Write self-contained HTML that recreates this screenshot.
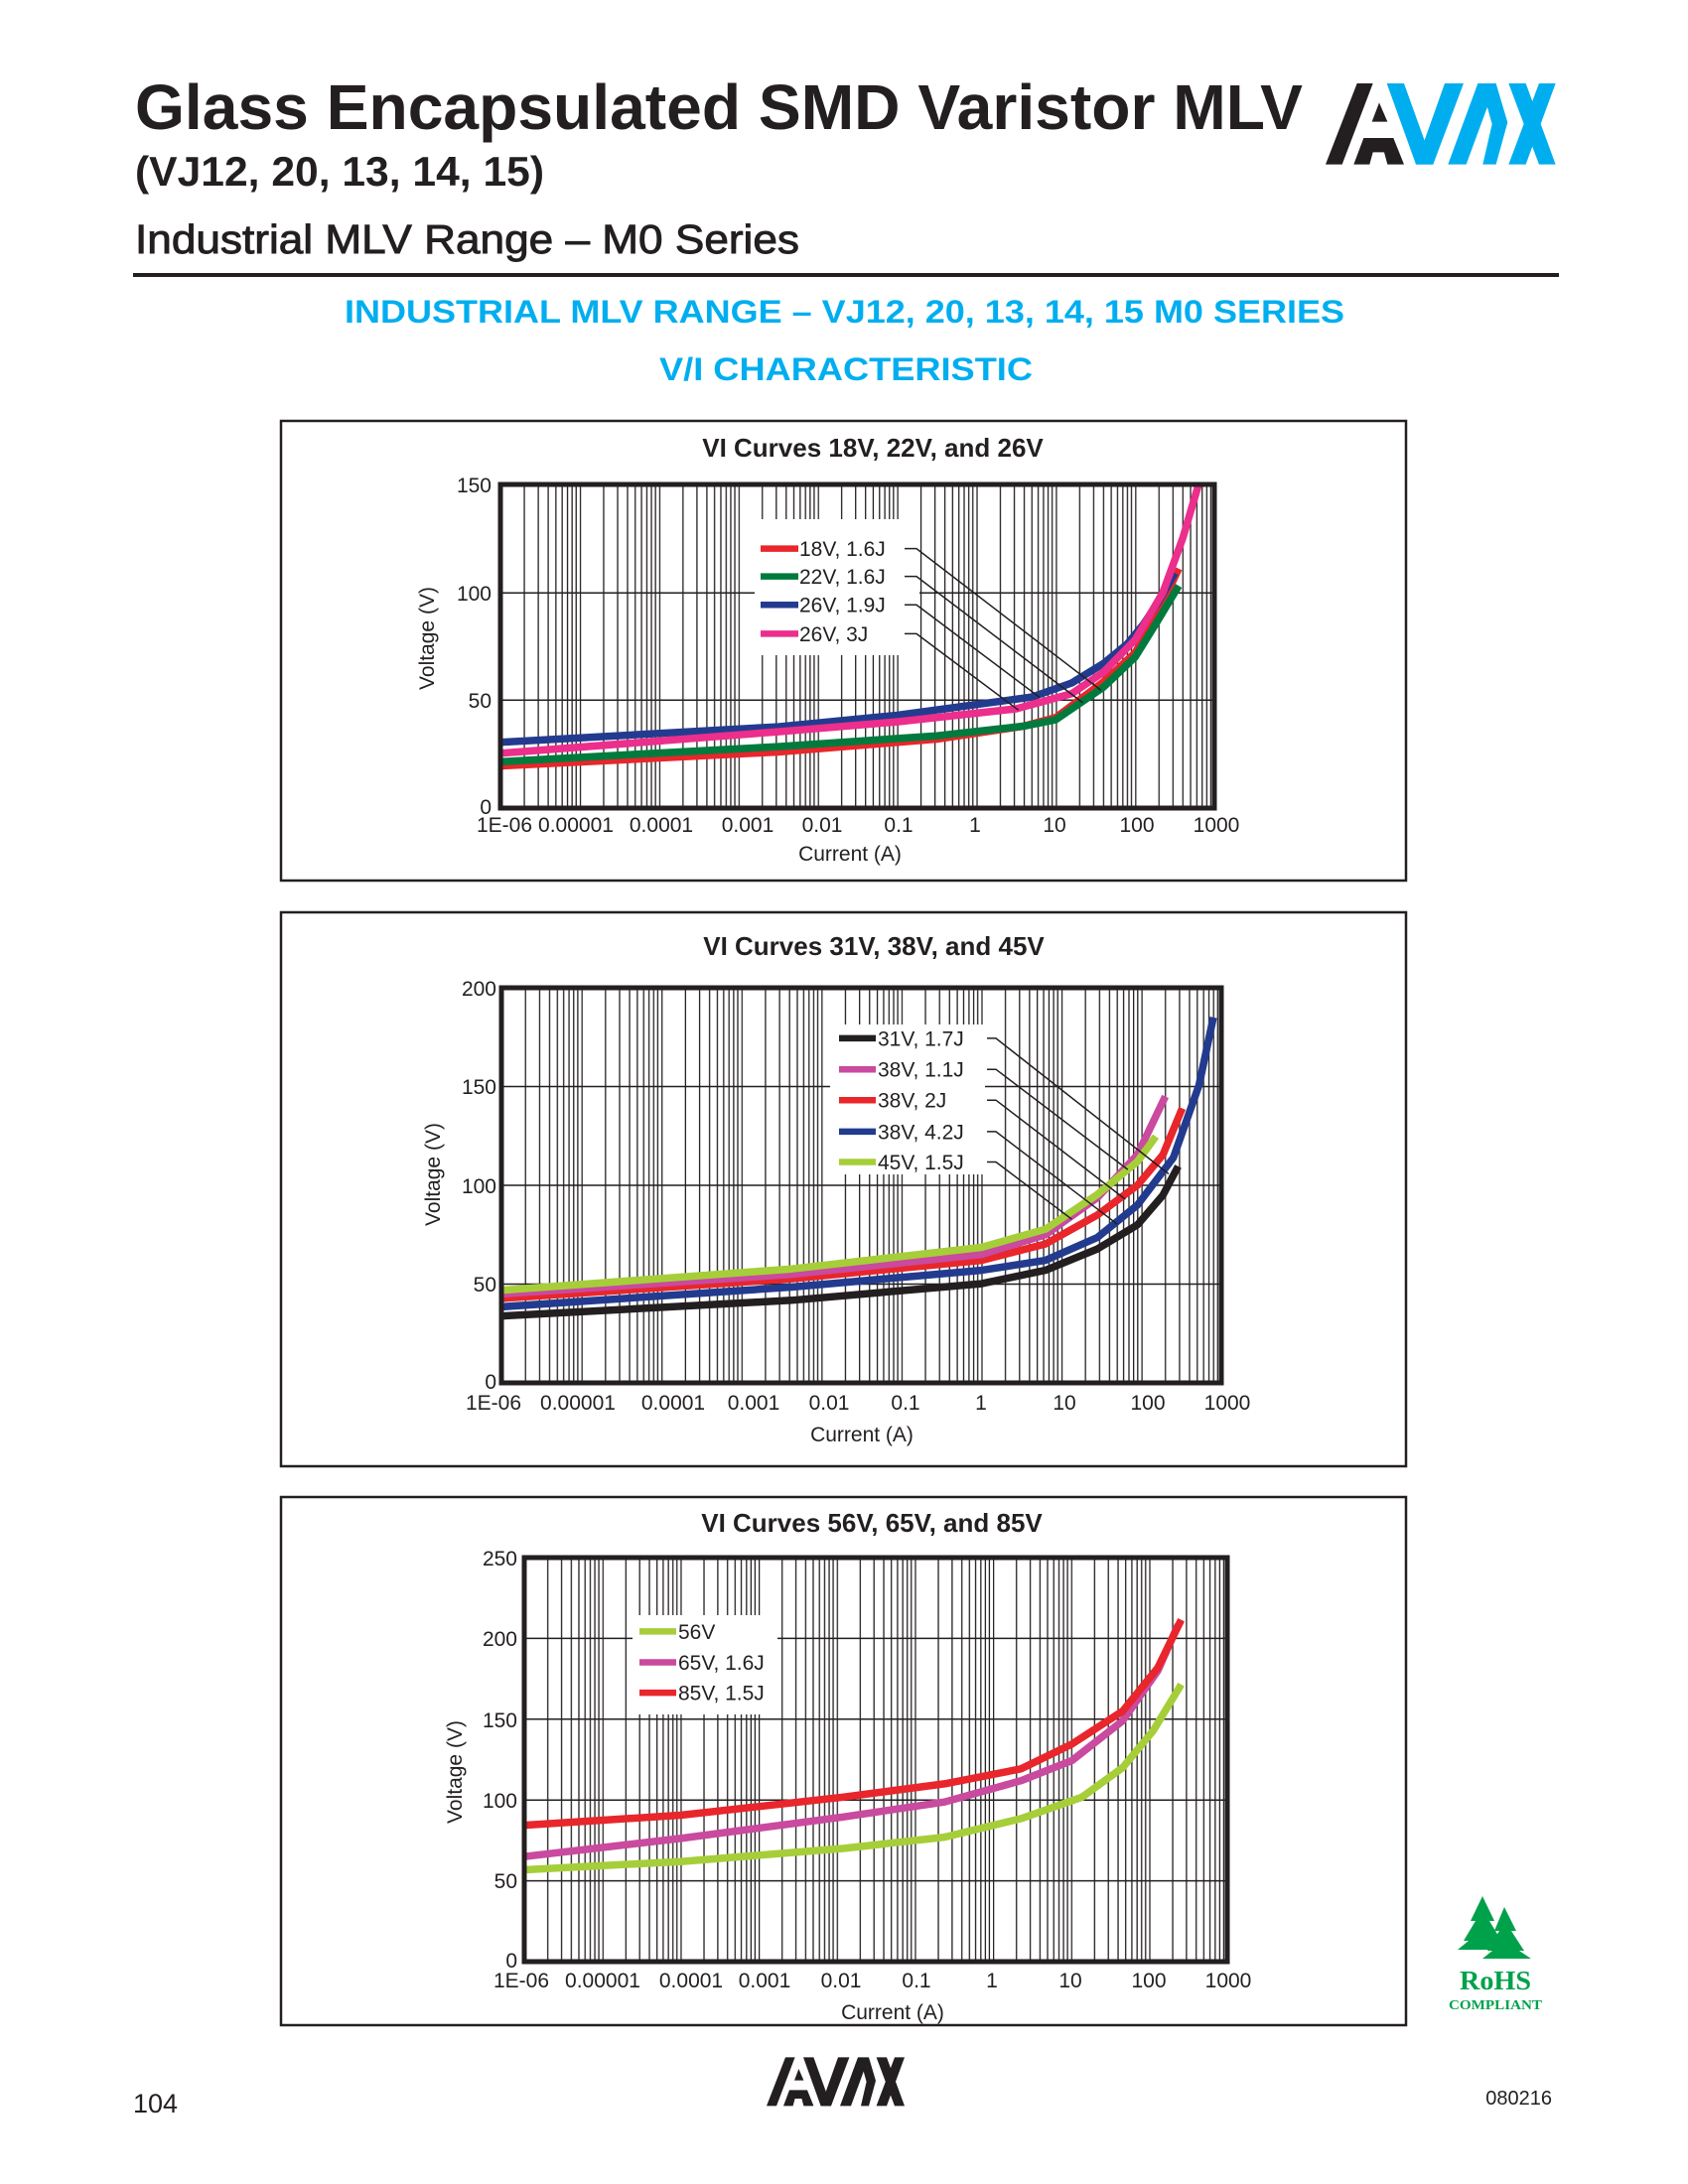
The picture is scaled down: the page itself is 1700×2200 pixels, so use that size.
<!DOCTYPE html>
<html><head><meta charset="utf-8"><style>html,body{margin:0;padding:0;background:#fff}svg{display:block}</style></head>
<body>
<svg width="1700" height="2200" viewBox="0 0 1700 2200" xmlns="http://www.w3.org/2000/svg" font-family="Liberation Sans, Arial, sans-serif">
<defs>
<pattern id="g1" patternUnits="userSpaceOnUse" x="504" y="0" width="79.9" height="2200">
<g stroke="#231f20" stroke-width="1.3"><line x1="0.6" y1="0" x2="0.6" y2="2200"/><line x1="24.05" y1="0" x2="24.05" y2="2200"/><line x1="38.12" y1="0" x2="38.12" y2="2200"/><line x1="48.1" y1="0" x2="48.1" y2="2200"/><line x1="55.85" y1="0" x2="55.85" y2="2200"/><line x1="62.17" y1="0" x2="62.17" y2="2200"/><line x1="67.52" y1="0" x2="67.52" y2="2200"/><line x1="72.16" y1="0" x2="72.16" y2="2200"/><line x1="76.24" y1="0" x2="76.24" y2="2200"/></g></pattern>
<pattern id="g2" patternUnits="userSpaceOnUse" x="505" y="0" width="80.56" height="2200">
<g stroke="#231f20" stroke-width="1.3"><line x1="0.6" y1="0" x2="0.6" y2="2200"/><line x1="24.25" y1="0" x2="24.25" y2="2200"/><line x1="38.44" y1="0" x2="38.44" y2="2200"/><line x1="48.5" y1="0" x2="48.5" y2="2200"/><line x1="56.31" y1="0" x2="56.31" y2="2200"/><line x1="62.69" y1="0" x2="62.69" y2="2200"/><line x1="68.08" y1="0" x2="68.08" y2="2200"/><line x1="72.75" y1="0" x2="72.75" y2="2200"/><line x1="76.87" y1="0" x2="76.87" y2="2200"/></g></pattern>
<pattern id="g3" patternUnits="userSpaceOnUse" x="528" y="0" width="78.67" height="2200">
<g stroke="#231f20" stroke-width="1.3"><line x1="0.6" y1="0" x2="0.6" y2="2200"/><line x1="23.68" y1="0" x2="23.68" y2="2200"/><line x1="37.54" y1="0" x2="37.54" y2="2200"/><line x1="47.36" y1="0" x2="47.36" y2="2200"/><line x1="54.99" y1="0" x2="54.99" y2="2200"/><line x1="61.22" y1="0" x2="61.22" y2="2200"/><line x1="66.48" y1="0" x2="66.48" y2="2200"/><line x1="71.05" y1="0" x2="71.05" y2="2200"/><line x1="75.07" y1="0" x2="75.07" y2="2200"/></g></pattern>
<g id="logo">
<polygon points="140,42 188,42 95,287 45,287"/>
<polygon points="185,158 207,100 232,158"/>
<polygon points="160,207 250,207 282,287 232,287 222,250 188,250 178,287 130,287"/>
</g>
<g id="logo2">
<polygon points="230,42 282,42 370,287 318,287"/>
<polygon points="405,42 462,42 370,287 318,287"/>
<polygon points="505,42 560,42 470,287 415,287"/>
<polygon points="560,42 595,160 560,287 520,287 548,165 530,100"/>
<polygon points="598,42 650,42 740,287 690,287"/>
<polygon points="690,42 740,42 650,287 598,287"/>
</g>
</defs>

<!-- Header -->
<text x="136" y="130" font-size="64" font-weight="bold" fill="#231f20" textLength="1176" lengthAdjust="spacingAndGlyphs">Glass Encapsulated SMD Varistor MLV</text>
<text x="136" y="187" font-size="42" font-weight="bold" fill="#231f20" textLength="412" lengthAdjust="spacingAndGlyphs">(VJ12, 20, 13, 14, 15)</text>
<text x="136" y="255" font-size="41" fill="#231f20" stroke="#231f20" stroke-width="0.9" textLength="669" lengthAdjust="spacingAndGlyphs">Industrial MLV Range – M0 Series</text>
<rect x="134" y="275" width="1436" height="4" fill="#231f20"/>
<g transform="translate(1320,70) scale(0.3333)"><use href="#logo" fill="#231f20"/><use href="#logo2" fill="#00aeef"/></g>
<text x="347" y="325" font-size="32" font-weight="bold" fill="#00aeef" textLength="1007" lengthAdjust="spacingAndGlyphs">INDUSTRIAL MLV RANGE – VJ12, 20, 13, 14, 15 M0 SERIES</text>
<text x="664" y="383" font-size="32" font-weight="bold" fill="#00aeef" textLength="376" lengthAdjust="spacingAndGlyphs">V/I CHARACTERISTIC</text>

<!-- Chart 1 -->
<rect x="283" y="424" width="1133" height="463" fill="none" stroke="#231f20" stroke-width="2.5"/>
<text x="879" y="460" font-size="26" font-weight="bold" text-anchor="middle" fill="#231f20">VI Curves 18V, 22V, and 26V</text>
<rect x="504" y="488" width="719" height="326" fill="url(#g1)"/>
<g stroke="#231f20" stroke-width="1.5"><line x1="504" y1="705.3" x2="1223" y2="705.3"/><line x1="504" y1="597.3" x2="1223" y2="597.3"/></g>
<rect x="760" y="523" width="166" height="137" fill="#fff"/>
<g fill="none" stroke-width="7.5" stroke-linejoin="round" stroke-linecap="butt">
<polyline stroke="#e8262b" points="504,771.6 783.7,757.5 943.5,744.5 1031.3,731.4 1063.3,722.7 1111.2,686.9 1143.2,657.5 1164.8,620.6 1187.1,572.8"/>
<polyline stroke="#007a3d" points="504,767.3 783.7,752.1 943.5,741.2 1031.3,731.4 1063.3,724.9 1111.2,692.3 1143.2,661.9 1164.8,627.1 1187.1,590.1"/>
<polyline stroke="#233b8f" points="504,747.7 783.7,732.1 903.5,720.5 1039.3,702.1 1079.3,688 1111.2,668.4 1135.2,648.8 1151.2,629.3 1167.2,605.4 1183.2,577.1"/>
<polyline stroke="#ec2e8c" points="504,758.8 783.7,737.1 903.5,727.1 1023.4,714 1079.3,698.8 1111.2,677.1 1143.2,644.5 1171.2,596.7 1191.1,542.3 1207.1,488"/>
</g>
<g stroke="#231f20" stroke-width="1.5" fill="none">
<polyline points="911,552.6 923,552.6 1108.8,695.3"/>
<polyline points="911,580.6 923,580.6 1090.5,707.9"/>
<polyline points="911,609.3 923,609.3 1047.3,702.7"/>
<polyline points="911,638.4 923,638.4 1025.7,715.3"/>
</g>
<g stroke-width="6.5"><line x1="766" y1="552.6" x2="804" y2="552.6" stroke="#e8262b"/><line x1="766" y1="580.6" x2="804" y2="580.6" stroke="#007a3d"/><line x1="766" y1="609.3" x2="804" y2="609.3" stroke="#233b8f"/><line x1="766" y1="638.4" x2="804" y2="638.4" stroke="#ec2e8c"/></g>
<g font-size="21" fill="#231f20"><text x="805" y="560">18V, 1.6J</text><text x="805" y="588">22V, 1.6J</text><text x="805" y="616.7">26V, 1.9J</text><text x="805" y="645.8">26V, 3J</text></g>
<rect x="504" y="488" width="719" height="326" fill="none" stroke="#231f20" stroke-width="5"/>
<g font-size="21" fill="#231f20" text-anchor="end"><text x="495" y="496">150</text><text x="495" y="605">100</text><text x="495" y="713">50</text><text x="495" y="820">0</text></g>
<text transform="translate(437,643) rotate(-90)" font-size="21" text-anchor="middle" fill="#231f20">Voltage (V)</text>
<g font-size="21" fill="#231f20" text-anchor="middle"><text x="508" y="838">1E-06</text><text x="580" y="838">0.00001</text><text x="666" y="838">0.0001</text><text x="753" y="838">0.001</text><text x="828" y="838">0.01</text><text x="905" y="838">0.1</text><text x="982" y="838">1</text><text x="1062" y="838">10</text><text x="1145" y="838">100</text><text x="1225" y="838">1000</text></g>
<text x="856" y="867" font-size="21" text-anchor="middle" fill="#231f20">Current (A)</text>

<!-- Chart 2 -->
<rect x="283" y="919" width="1133" height="558" fill="none" stroke="#231f20" stroke-width="2.5"/>
<text x="880" y="962" font-size="26" font-weight="bold" text-anchor="middle" fill="#231f20">VI Curves 31V, 38V, and 45V</text>
<rect x="505" y="995" width="725" height="398" fill="url(#g2)"/>
<g stroke="#231f20" stroke-width="1.5"><line x1="505" y1="1293.5" x2="1230" y2="1293.5"/><line x1="505" y1="1194" x2="1230" y2="1194"/><line x1="505" y1="1094.5" x2="1230" y2="1094.5"/></g>
<rect x="836" y="1032" width="156" height="151" fill="#fff"/>
<g fill="none" stroke-width="7.5" stroke-linejoin="round">
<polyline stroke="#231f20" points="505,1325.7 797.4,1309.8 988.4,1293.1 1052.8,1279.6 1105.2,1258.1 1145.5,1233.8 1171.2,1203.9 1186.5,1174.9"/>
<polyline stroke="#233b8f" points="505,1316.4 797.4,1296.5 988.4,1279.6 1052.8,1269.6 1105.2,1246.5 1145.5,1213.9 1181.7,1166.1 1207.5,1093.3 1222,1024.8"/>
<polyline stroke="#e8262b" points="505,1308 797.4,1288.1 988.4,1269.6 1052.8,1253.1 1105.2,1223.9 1145.5,1194 1171.2,1163.2 1190.6,1116.4"/>
<polyline stroke="#c94a9e" points="505,1303.5 797.4,1283.6 988.4,1263.7 1052.8,1243.8 1105.2,1206.5 1145.5,1163.2 1173.6,1104.5"/>
<polyline stroke="#a6ce39" points="505,1299.7 797.4,1278.2 988.4,1256.5 1052.8,1238.2 1105.2,1203.2 1145.5,1170.1 1164,1144.8"/>
</g>
<g stroke="#231f20" stroke-width="1.5" fill="none">
<polyline points="994,1045.9 1003,1045.9 1176.9,1182.5"/>
<polyline points="994,1077.2 1003,1077.2 1135.8,1178.1"/>
<polyline points="994,1108.2 1003,1108.2 1133.4,1208.1"/>
<polyline points="994,1139.9 1003,1139.9 1125.3,1233.2"/>
<polyline points="994,1170.5 1003,1170.5 1079.4,1228.2"/>
</g>
<g stroke-width="6.5"><line x1="845" y1="1045.9" x2="882" y2="1045.9" stroke="#231f20"/><line x1="845" y1="1077.2" x2="882" y2="1077.2" stroke="#c94a9e"/><line x1="845" y1="1108.2" x2="882" y2="1108.2" stroke="#e8262b"/><line x1="845" y1="1139.9" x2="882" y2="1139.9" stroke="#233b8f"/><line x1="845" y1="1170.5" x2="882" y2="1170.5" stroke="#a6ce39"/></g>
<g font-size="21" fill="#231f20"><text x="884" y="1053.4">31V, 1.7J</text><text x="884" y="1084.6">38V, 1.1J</text><text x="884" y="1115.6">38V, 2J</text><text x="884" y="1147.3">38V, 4.2J</text><text x="884" y="1177.9">45V, 1.5J</text></g>
<rect x="505" y="995" width="725" height="398" fill="none" stroke="#231f20" stroke-width="5"/>
<g font-size="21" fill="#231f20" text-anchor="end"><text x="500" y="1003">200</text><text x="500" y="1102">150</text><text x="500" y="1202">100</text><text x="500" y="1301">50</text><text x="500" y="1399">0</text></g>
<text transform="translate(443,1183) rotate(-90)" font-size="21" text-anchor="middle" fill="#231f20">Voltage (V)</text>
<g font-size="21" fill="#231f20" text-anchor="middle"><text x="497" y="1420">1E-06</text><text x="582" y="1420">0.00001</text><text x="678" y="1420">0.0001</text><text x="759" y="1420">0.001</text><text x="835" y="1420">0.01</text><text x="912" y="1420">0.1</text><text x="988" y="1420">1</text><text x="1072" y="1420">10</text><text x="1156" y="1420">100</text><text x="1236" y="1420">1000</text></g>
<text x="868" y="1452" font-size="21" text-anchor="middle" fill="#231f20">Current (A)</text>

<!-- Chart 3 -->
<rect x="283" y="1508" width="1133" height="532" fill="none" stroke="#231f20" stroke-width="2.5"/>
<text x="878" y="1543" font-size="26" font-weight="bold" text-anchor="middle" fill="#231f20">VI Curves 56V, 65V, and 85V</text>
<rect x="528" y="1569" width="708" height="407" fill="url(#g3)"/>
<g stroke="#231f20" stroke-width="1.5"><line x1="528" y1="1894.6" x2="1236" y2="1894.6"/><line x1="528" y1="1813.2" x2="1236" y2="1813.2"/><line x1="528" y1="1731.8" x2="1236" y2="1731.8"/><line x1="528" y1="1650.4" x2="1236" y2="1650.4"/></g>
<rect x="637" y="1627" width="146" height="100" fill="#fff"/>
<g fill="none" stroke-width="7.5" stroke-linejoin="round">
<polyline stroke="#a6ce39" points="528,1883.5 685.3,1875.2 849,1862 951.2,1850.6 1028.3,1831.9 1089.7,1810.3 1130.6,1780.6 1161.3,1743.5 1189.6,1696.8"/>
<polyline stroke="#c94a9e" points="528,1870.2 685.3,1851.9 849,1830.3 951.2,1815.2 1028.3,1793.7 1079.5,1773.5 1130.6,1733.4 1166,1683 1186.5,1636.7"/>
<polyline stroke="#e8262b" points="528,1838.6 685.3,1828.5 849,1810.3 951.2,1796.9 1028.3,1781.8 1079.5,1756.9 1130.6,1723.7 1166,1680 1189.6,1631.7"/>
</g>
<g stroke-width="6.5"><line x1="644" y1="1643.4" x2="681" y2="1643.4" stroke="#a6ce39"/><line x1="644" y1="1674.5" x2="681" y2="1674.5" stroke="#c94a9e"/><line x1="644" y1="1705.1" x2="681" y2="1705.1" stroke="#e8262b"/></g>
<g font-size="21" fill="#231f20"><text x="683" y="1650.8">56V</text><text x="683" y="1681.9">65V, 1.6J</text><text x="683" y="1712.5">85V, 1.5J</text></g>
<rect x="528" y="1569" width="708" height="407" fill="none" stroke="#231f20" stroke-width="5"/>
<g font-size="21" fill="#231f20" text-anchor="end"><text x="521" y="1577">250</text><text x="521" y="1658">200</text><text x="521" y="1740">150</text><text x="521" y="1821">100</text><text x="521" y="1902">50</text><text x="521" y="1982">0</text></g>
<text transform="translate(465,1785) rotate(-90)" font-size="21" text-anchor="middle" fill="#231f20">Voltage (V)</text>
<g font-size="21" fill="#231f20" text-anchor="middle"><text x="525" y="2002">1E-06</text><text x="607" y="2002">0.00001</text><text x="696" y="2002">0.0001</text><text x="770" y="2002">0.001</text><text x="847" y="2002">0.01</text><text x="923" y="2002">0.1</text><text x="999" y="2002">1</text><text x="1078" y="2002">10</text><text x="1157" y="2002">100</text><text x="1237" y="2002">1000</text></g>
<text x="899" y="2034" font-size="21" text-anchor="middle" fill="#231f20">Current (A)</text>

<!-- RoHS -->
<g fill="#00a14b">
<polygon points="1493,1910 1505,1935 1500,1935 1512,1955 1507,1955 1518,1964 1468,1964 1479,1955 1474,1955 1486,1935 1481,1935"/>
<polygon points="1515,1921 1527,1945 1522,1945 1535,1965 1530,1965 1542,1973 1493,1973 1503,1965 1498,1965 1510,1945 1505,1945"/>
<text x="1506" y="2004" font-family="Liberation Serif, serif" font-size="27" font-weight="bold" text-anchor="middle" textLength="72" lengthAdjust="spacingAndGlyphs">RoHS</text>
<text x="1506" y="2024" font-family="Liberation Serif, serif" font-size="14" font-weight="bold" text-anchor="middle" textLength="94" lengthAdjust="spacingAndGlyphs">COMPLIANT</text>
</g>

<!-- Footer -->
<text x="134" y="2128" font-size="27" fill="#231f20">104</text>
<g transform="translate(763,2064) scale(0.2)" fill="#231f20"><use href="#logo"/><use href="#logo2"/></g>
<text x="1563" y="2120" font-size="20" text-anchor="end" fill="#231f20">080216</text>
</svg>
</body></html>
